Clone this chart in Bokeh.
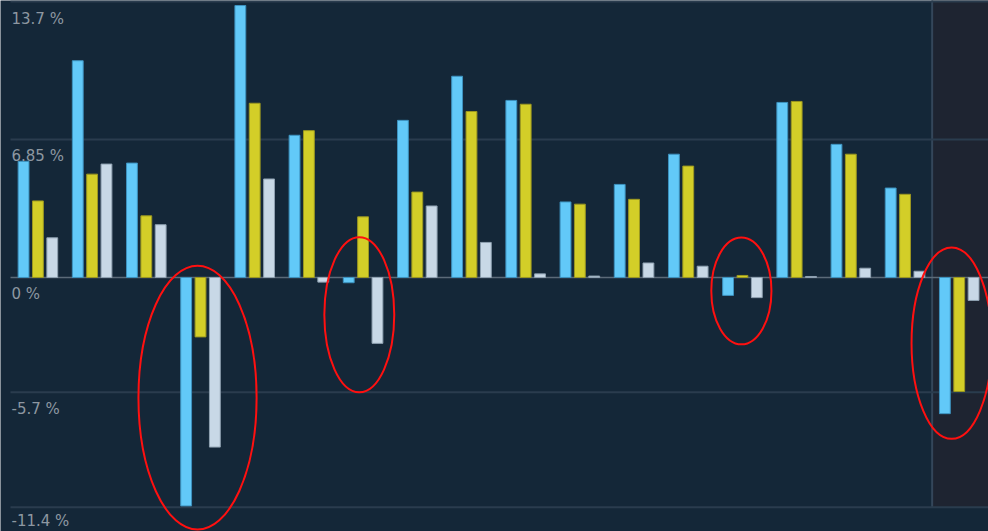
from bokeh.plotting import figure
from bokeh.models import Range1d, BoxAnnotation, ColumnDataSource
from bokeh.transform import dodge
from bokeh.core.properties import value
from bokeh.embed import file_html
from bokeh.resources import INLINE

# ---- data -------------------------------------------------------------
groups = list(range(18))
series_a = [5.77, 10.76, 5.68, -11.34, 13.5, 7.06, -0.26, 7.8, 9.99, 8.79,
            3.75, 4.62, 6.12, -0.89, 8.69, 6.61, 4.44, -6.76]
series_b = [3.8, 5.13, 3.06, -2.95, 8.65, 7.29, 3.01, 4.24, 8.24, 8.6,
            3.64, 3.88, 5.53, 0.1, 8.74, 6.12, 4.13, -5.66]
series_c = [1.97, 5.63, 2.62, -8.42, 4.89, -0.23, -3.27, 3.55, 1.74, 0.18,
            0.07, 0.72, 0.56, -1.0, 0.05, 0.46, 0.31, -1.14]
tick_values = [13.7, 6.85, 0, -5.7, -11.4]
tick_labels = ["13.7 %", "6.85 %", "0 %", "-5.7 %", "-11.4 %"]
highlight_group = 17
# red ellipse annotations: (group index, value centre, width in groups, height in %)
ell_x = [2.945, 5.93, 12.98, 16.86]
ell_y = [-5.97, -1.85, -0.67, -3.26]
ell_w = [2.18, 1.29, 1.11, 1.48]
ell_h = [13.1, 7.7, 5.3, 9.5]

BG = "#142738"
X0 = -0.506  # left edge of plotting area (where grid lines and labels start)
src = ColumnDataSource(dict(g=groups, a=series_a, b=series_b, c=series_c))

p = figure(width=988, height=531, output_backend="svg", toolbar_location=None,
           x_range=Range1d(-0.6905, 17.54), y_range=Range1d(-12.61, 13.75),
           x_axis_location=None, y_axis_location=None,
           min_border_left=0, min_border_right=0, min_border_top=0, min_border_bottom=0,
           background_fill_color=BG, border_fill_color=BG, outline_line_color=None)
p.margin = (0, 0, 0, 0)
p.grid.visible = False

# highlighted last group band
p.add_layout(BoxAnnotation(left=highlight_group - 0.5, bottom=tick_values[-1],
                           fill_color="#1e2431", fill_alpha=1.0, line_color=None,
                           level="underlay"))
p.segment(x0=[highlight_group - 0.5], y0=[tick_values[-1]], x1=[highlight_group - 0.5],
          y1=[20], line_color="#34465a", line_width=2)

# grid lines
grid_vals = [v for v in tick_values if v != 0]
p.segment(x0=[X0] * len(grid_vals), y0=grid_vals, x1=[20] * len(grid_vals), y1=grid_vals,
          line_color="#2a3c4e", line_width=2)
# zero line
p.segment(x0=[X0], y0=[0], x1=[20], y1=[0], line_color="#5b6a78", line_width=1.5)

bw = 0.2
off = 0.265
p.vbar(x=dodge("g", -off, range=p.x_range), top="a", bottom=0, width=bw, source=src,
       fill_color="#62c9f8", line_color="#3d92bf", line_width=1)
p.vbar(x=dodge("g", 0, range=p.x_range), top="b", bottom=0, width=bw, source=src,
       fill_color="#d3ce28", line_color="#9c9820", line_width=1)
p.vbar(x=dodge("g", off, range=p.x_range), top="c", bottom=0, width=bw, source=src,
       fill_color="#c8d8e6", line_color="#8fa1b1", line_width=1)

# axis labels inside plot, below their lines
p.text(x=[X0] * len(tick_values), y=tick_values, text=tick_labels,
       text_font=value("DejaVu Sans"), text_font_size="15px", text_color="#8d97a1",
       text_baseline="top", text_align="left", x_offset=1,
       y_offset=[8, 8, 8, 8, 5])

# red ellipses
p.ellipse(x=ell_x, y=ell_y, width=ell_w, height=ell_h, fill_color=None,
          line_color="#ff1010", line_width=2)

open("out.html", "w").write(file_html(p, INLINE))
